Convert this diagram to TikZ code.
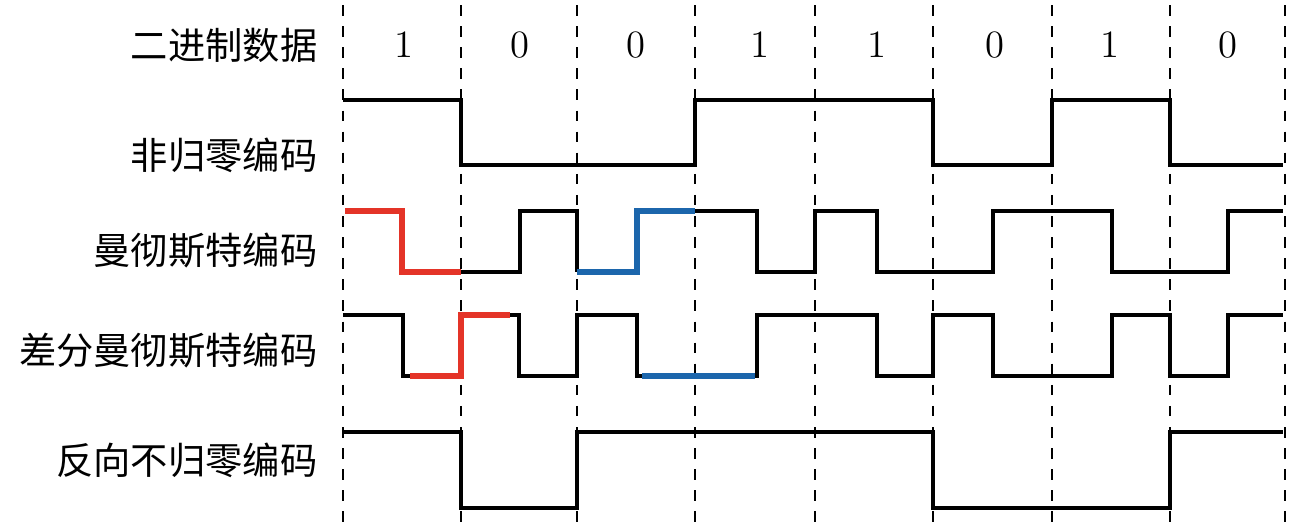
\documentclass[tikz,border=0pt]{standalone}
\usepackage{fontspec}
\newfontfamily\cjk{Noto Sans CJK SC}
\definecolor{myred}{RGB}{228,52,40}
\definecolor{myblue}{RGB}{28,102,172}
\begin{document}
\begin{tikzpicture}[x=0.01cm,y=-0.01cm,
  wave/.style={line width=1pt,line join=miter},
  hl/.style={line width=1.9pt},
  grid/.style={dashed,line width=0.6pt},
  lbl/.style={anchor=east,font=\cjk\fontsize{10.6}{12}\selectfont,inner sep=0pt},
  bit/.style={font=\fontsize{11}{12}\selectfont,inner sep=0pt}]
\useasboundingbox (0,0) rectangle (1300,529);
\foreach \x in {343,461,577,695,815,933,1052,1170,1285}
  \draw[grid] (\x,5) -- (\x,529);
\node[lbl] (l1) at (318,45) {二进制数据};
\node[lbl] (l2) at (318,155) {非归零编码};
\node[lbl] (l3) at (318,250) {曼彻斯特编码};
\node[lbl] (l4) at (318,350) {差分曼彻斯特编码};
\node[lbl] (l5) at (318,460) {反向不归零编码};
\foreach \x/\b in {404/1,520/0,636/0,760/1,877/1,995/0,1110/1,1228/0}
  \node[bit] at (\x,45) {\b};
% NRZ
\draw[wave] (343,100) -- (461,100) -- (461,165) -- (695,165) -- (695,100) -- (933,100) -- (933,165) -- (1052,165) -- (1052,100) -- (1170,100) -- (1170,165) -- (1283,165);
% Manchester
\draw[wave] (461,272) -- (520,272) -- (520,211) -- (577,211) -- (577,272);
\draw[wave] (695,211) -- (757,211) -- (757,272) -- (815,272) -- (815,211) -- (877,211) -- (877,272) -- (993,272) -- (993,211) -- (1112,211) -- (1112,272) -- (1228,272) -- (1228,211) -- (1283,211);
\draw[hl,myred] (345,211) -- (402,211) -- (402,272) -- (461,272);
\draw[hl,myblue] (577,272) -- (637,272) -- (637,211) -- (695,211);
% Differential Manchester
\draw[wave] (343,315) -- (403,315) -- (403,376) -- (410,376);
\draw[wave] (510,315) -- (519,315) -- (519,376) -- (577,376) -- (577,315) -- (637,315) -- (637,376) -- (642,376);
\draw[wave] (755,376) -- (757,376) -- (757,315) -- (877,315) -- (877,376) -- (933,376) -- (933,315) -- (993,315) -- (993,376) -- (1112,376) -- (1112,315) -- (1170,315) -- (1170,376) -- (1228,376) -- (1228,315) -- (1283,315);
\draw[hl,myred] (410,376) -- (461,376) -- (461,315) -- (510,315);
\draw[hl,myblue] (642,376) -- (755,376);
% Inverse NRZ
\draw[wave] (343,432) -- (461,432) -- (461,508) -- (577,508) -- (577,432) -- (933,432) -- (933,508) -- (1170,508) -- (1170,432) -- (1283,432);
\end{tikzpicture}
\end{document}
